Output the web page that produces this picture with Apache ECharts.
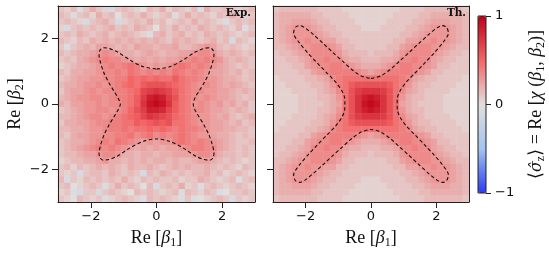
<!DOCTYPE html>
<html><head><meta charset="utf-8">
<script src="https://cdn.jsdelivr.net/npm/echarts@6/dist/echarts.min.js"></script>
<style>html,body{margin:0;padding:0;background:#fff}#c{width:549px;height:257px}</style>
</head><body><div id="c"></div>
<script>
// level code: a=-0.25, b=-0.20, ... f=0.00, ... z=1.00 (step 0.05)
const levelChars = 'abcdefghijklmnopqrstuvwxyz';

// Experimental panel, rows from top (Re[b2]=+3) to bottom (-3), columns left (-3) to right (+3)
const expRows = [
  "hgieh jhgdh ihgfi hjgih giejh hihgh i",
  "ihehi gjhif hihjh ghieh jhihg ihjhg h",
  "hihgd hijhd ghihj highi hjhih gehih i",
  "gdhih ihijh ihjih fihjh ihjih ihgie h",
  "hihji hijhi jihge ijhij hihji hihgh i",
  "ihgih jijij ijiji jihji jihij hidih g",
  "hehij ikkji jikjj ijjki ijklk ihihg h",
  "ihijj klmlk jjijk jijjk klmml jijih i",
  "hihjk lmnmm lkjkj kjkkl mnmnm ljiji h",
  "ghijj klmnm nonlk lklno nmnml kjihi h",
  "ihjjk klmmn monmn mnmon mnmlk kjijh i",
  "hijkk llmmn npopo pooqo nnmll kjjih i",
  "ijjkl lmlmn opoqr rrqpo nmlml kjkji h",
  "hjkkl mlmmn nopst utsqo nmmll kkjij i",
  "ijkll mmlmn noqtw xwtro nmlml kkjih i",
  "jikkl lmlmm noqux yxuqo nlmlk ljkij h",
  "hijkl lmmlm nprtw wvsqo nmmlk kjiji h",
  "iijkl mmlmn opqsu tsrpo nmllk jkihi j",
  "hjjkk lmmnn ooqpq rqroo nmllk kjijh i",
  "iijjk llmnn onoop opono nnmlk kjjii h",
  "ihjkk llmmn nomno mnmno nmllk jjihi h",
  "hijjk lmnmo nmlkl kllno nmnml kjihh i",
  "hijkl mnmnm lkjkj kjkkl mnnmm kjihi h",
  "hiijk klmml jjijj ijjkk klmml jiihi h",
  "ghiij jkljj ijiji jjiji ijkkj ihihg h",
  "higih ijiji hjiij ihiji jiiji hihgi h",
  "hghdh iihji hihdi hjihi hiijh ighih g",
  "idhgi hihih jhgih ihhig hhjih ghieh i",
  "hifgh ihehj hihfi dhihj ghehi hghih g",
  "ghedh hdhih gfihi hghie ihgih efhhi h",
  "hgfih ghegh ihgei hihge hefgh ihdhg h"
];

// Theory panel
const thRows = [
  "hiiiiiihhhhgggg g gggghhhhiiiiiih",
  "ijjjjjiihhhhggg g ggghhhhiijjjjji",
  "ijjkkkjiihhhhgg g gghhhhiijkkkjji",
  "ijklllkjiihhhhg g ghhhhiijklllkji",
  "ijkllllkjiihhhh h hhhhiijkllllkji",
  "ijkllmllkkiihhh h hhhiikkllmllkji",
  "iijkllmmmlkiihh h hhiiklmmmllkjii",
  "hiijklmmmmljiii h iiijlmmmmlkjiih",
  "hhiijkmmnmmkjji i ijjkmmnmmkjiihh",
  "hhhiiklmmnnmlkj j jklmnnmmlkiihhh",
  "hhhhiiklmnnnnml k lmnnnnmlkiihhhh",
  "ghhhhiijkmnoooo o oooonmkjiihhhhg",
  "gghhhhiijlnoqrr r rrqonljiihhhhgg",
  "ggghhhhijkmortu u utromkjihhhhggg",
  "gggghhhiijloruw x wuroljiihhhgggg",
  "gggghhhhijkorux y xurokjihhhhgggg",
  "gggghhhiijloruw x wuroljiihhhgggg",
  "ggghhhhijkmortu u utromkjihhhhggg",
  "gghhhhiijlnoqrr r rrqonljiihhhhgg",
  "ghhhhiijkmnoooo o oooonmkjiihhhhg",
  "hhhhiiklmnnnnml k lmnnnnmlkiihhhh",
  "hhhiiklmmnnmlkj j jklmnnmmlkiihhh",
  "hhiijkmmnmmkjji i ijjkmmnmmkjiihh",
  "hiijklmmmmljiii h iiijlmmmmlkjiih",
  "iijkllmmmlkiihh h hhiiklmmmllkjii",
  "ijkllmllkkiihhh h hhhiikkllmllkji",
  "ijkllllkjiihhhh h hhhhiijkllllkji",
  "ijklllkjiihhhhg g ghhhhiijklllkji",
  "ijjkkkjiihhhhgg g gghhhhiijkkkjji",
  "ijjjjjiihhhhggg g ggghhhhiijjjjji",
  "hiiiiiihhhhgggg g gggghhhhiiiiiih"
];

// dashed contour lines, [Re b1, Re b2]
const expContour = [
  [0,1.07],[0.4,1.14],[0.8,1.34],[1.2,1.6],[1.45,1.7],[1.62,1.72],[1.72,1.65],[1.75,1.5],[1.7,1.25],[1.6,0.95],[1.45,0.65],[1.3,0.4],[1.17,0.18],[1.12,0],
  [1.17,-0.18],[1.3,-0.4],[1.45,-0.65],[1.6,-0.95],[1.7,-1.25],[1.75,-1.5],[1.72,-1.65],[1.62,-1.72],[1.45,-1.7],[1.2,-1.6],[0.8,-1.34],[0.4,-1.14],[0,-1.07],
  [-0.4,-1.14],[-0.8,-1.34],[-1.2,-1.6],[-1.45,-1.7],[-1.62,-1.72],[-1.72,-1.65],[-1.75,-1.5],[-1.7,-1.25],[-1.6,-0.95],[-1.45,-0.65],[-1.3,-0.4],[-1.17,-0.18],[-1.1,0],
  [-1.17,0.18],[-1.3,0.4],[-1.45,0.65],[-1.6,0.95],[-1.7,1.25],[-1.75,1.5],[-1.72,1.65],[-1.62,1.72],[-1.45,1.7],[-1.2,1.6],[-0.8,1.34],[-0.4,1.14],[0,1.07]
];
const thContour = [
  [0,0.78],[0.3,0.86],[0.58,1.05],[0.87,1.31],[1.17,1.58],[1.47,1.86],[1.77,2.13],[2.02,2.33],[2.18,2.4],[2.31,2.35],[2.37,2.17],[2.2,1.88],[1.94,1.57],[1.64,1.25],[1.34,0.94],[1.08,0.67],[0.9,0.42],[0.81,0.2],[0.8,0],
  [0.81,-0.2],[0.9,-0.42],[1.08,-0.67],[1.34,-0.94],[1.64,-1.25],[1.94,-1.57],[2.2,-1.88],[2.37,-2.17],[2.31,-2.35],[2.18,-2.4],[2.02,-2.33],[1.77,-2.13],[1.47,-1.86],[1.17,-1.58],[0.87,-1.31],[0.58,-1.05],[0.3,-0.86],[0,-0.78],
  [-0.3,-0.86],[-0.58,-1.05],[-0.87,-1.31],[-1.17,-1.58],[-1.47,-1.86],[-1.77,-2.13],[-2.02,-2.33],[-2.18,-2.4],[-2.31,-2.35],[-2.37,-2.17],[-2.2,-1.88],[-1.94,-1.57],[-1.64,-1.25],[-1.34,-0.94],[-1.08,-0.67],[-0.9,-0.42],[-0.81,-0.2],[-0.8,0],
  [-0.81,0.2],[-0.9,0.42],[-1.08,0.67],[-1.34,0.94],[-1.64,1.25],[-1.94,1.57],[-2.2,1.88],[-2.37,2.17],[-2.31,2.35],[-2.18,2.4],[-2.02,2.33],[-1.77,2.13],[-1.47,1.86],[-1.17,1.58],[-0.87,1.31],[-0.58,1.05],[-0.3,0.86],[0,0.78]
];

const tickValues = [-2, 0, 2];
const cbarTicks = [-1, 0, 1];
const axisRange = [-3, 3];
const cmapColors = ['#2a3cf2', '#a4c4ef', '#e2dedd', '#f26666', '#bd0016'];

function decode(rows) {
  const out = [];
  const n = rows.length;
  rows.forEach((row, r) => {
    const s = row.replace(/ /g, '');
    for (let c = 0; c < s.length; c++) {
      out.push([c, n - 1 - r, (levelChars.indexOf(s[c]) - 5) / 20]);
    }
  });
  return out;
}
const cells = expRows.map((_, i) => String(i));

const minus = v => (v < 0 ? '\u2212' + Math.abs(v) : String(v));
const tickFont = { fontFamily: 'DejaVu Sans', fontSize: 13, color: '#111' };
const frameLine = { show: true, onZero: false, lineStyle: { color: '#222', width: 1 } };
const nameStyle = {
  fontFamily: 'Liberation Serif', fontSize: 18, color: '#111',
  rich: {
    it: { fontFamily: 'Liberation Serif', fontStyle: 'italic', fontSize: 18, color: '#111' },
    hat: { fontFamily: 'DejaVu Serif', fontStyle: 'italic', fontSize: 16, color: '#111' },
    sub: { fontFamily: 'Liberation Serif', fontSize: 12, color: '#111', padding: [9, 0, 0, 0] }
  }
};

const grids = [
  { left: 58, top: 6, width: 197, height: 196 },
  { left: 273, top: 6, width: 196, height: 196 },
  { left: 478, top: 16, width: 8, height: 177 }
];

function catX(g) {
  return { type: 'category', gridIndex: g, data: cells, position: 'top', boundaryGap: true,
    axisLine: frameLine, axisTick: { show: false }, axisLabel: { show: false }, splitLine: { show: false }, z: 5 };
}
function catY(g) {
  return { type: 'category', gridIndex: g, data: cells, position: 'right', boundaryGap: true,
    axisLine: frameLine, axisTick: { show: false }, axisLabel: { show: false }, splitLine: { show: false }, z: 5 };
}
function valX(g) {
  return { type: 'value', gridIndex: g, position: 'bottom', min: axisRange[0], max: axisRange[1],
    axisLine: { show: true, onZero: false, lineStyle: { color: '#222', width: 1 } },
    axisTick: { show: true, customValues: tickValues, length: 6, lineStyle: { color: '#222' } },
    axisLabel: { show: true, customValues: tickValues, formatter: minus, margin: 8, ...tickFont },
    splitLine: { show: false }, z: 5,
    name: 'Re [{it|β}{sub|1}]', nameLocation: 'middle', nameGap: 26, nameTextStyle: nameStyle };
}
function valY(g, labels) {
  const ax = { type: 'value', gridIndex: g, position: 'left', min: axisRange[0], max: axisRange[1],
    axisLine: { show: true, onZero: false, lineStyle: { color: '#222', width: 1 } },
    axisTick: { show: true, customValues: tickValues, length: 6, lineStyle: { color: '#222' } },
    axisLabel: { show: labels, customValues: tickValues, formatter: minus, margin: 9, ...tickFont },
    splitLine: { show: false }, z: 5 };
  if (labels) {
    ax.name = 'Re [{it|β}{sub|2}]';
    ax.nameLocation = 'middle';
    ax.nameGap = 23;
    ax.nameRotate = 90;
    ax.nameTextStyle = nameStyle;
  }
  return ax;
}

const contourStyle = { color: '#111', width: 1.1, type: [3.5, 2.5] };

const option = {
  animation: false,
  backgroundColor: '#fff',
  grid: grids,
  xAxis: [catX(0), valX(0), catX(1), valX(1),
    { type: 'value', gridIndex: 2, show: false, min: 0, max: 1 }],
  yAxis: [catY(0), valY(0, true), catY(1), valY(1, false),
    { type: 'value', gridIndex: 2, position: 'right', min: cbarTicks[0], max: cbarTicks[2], interval: 1,
      axisLine: { show: false, onZero: false }, splitLine: { show: false },
      axisTick: { show: true, length: 5, lineStyle: { color: '#222' } },
      axisLabel: { formatter: minus, margin: 9, ...tickFont },
      name: '⟨{hat|σ̂}{sub|z}⟩ = Re [{it|χ} ({it|β}{sub|1}, {it|β}{sub|2})]',
      nameLocation: 'middle', nameRotate: 90, nameGap: 40, nameTextStyle: nameStyle, z: 5 }],
  visualMap: {
    type: 'continuous', min: -1, max: 1, seriesIndex: [0, 1], orient: 'vertical',
    left: 478, top: 16, itemWidth: 8, itemHeight: 177, padding: 0, calculable: false,
    text: null, showLabel: false, inRange: { color: cmapColors }
  },
  series: [
    { type: 'heatmap', xAxisIndex: 0, yAxisIndex: 0, data: decode(expRows), progressive: 0, emphasis: { disabled: true } },
    { type: 'heatmap', xAxisIndex: 2, yAxisIndex: 2, data: decode(thRows), progressive: 0, emphasis: { disabled: true } },
    { type: 'line', xAxisIndex: 1, yAxisIndex: 1, data: expContour, showSymbol: false, smooth: 0.3, lineStyle: contourStyle, z: 4 },
    { type: 'line', xAxisIndex: 3, yAxisIndex: 3, data: thContour, showSymbol: false, smooth: 0.3, lineStyle: contourStyle, z: 4 }
  ],
  graphic: [
    { type: 'text', x: 251, y: 8, z: 100, style: { text: 'Exp.', font: 'bold 10.5px "DejaVu Serif"', textAlign: 'right', align: 'right', textVerticalAlign: 'top', verticalAlign: 'top', fill: '#111' } },
    { type: 'text', x: 466, y: 8, z: 100, style: { text: 'Th.', font: 'bold 10.5px "DejaVu Serif"', textAlign: 'right', align: 'right', textVerticalAlign: 'top', verticalAlign: 'top', fill: '#111' } },
    { type: 'rect', z: 100, shape: { x: 478, y: 16, width: 8, height: 177 }, style: { fill: 'none', stroke: '#222', lineWidth: 1 } }
  ]
};

const chart = echarts.init(document.getElementById('c'), null, { renderer: 'canvas' });
chart.setOption(option);

const bad = [];
expRows.forEach((r, i) => { if (r.replace(/ /g, '').length !== 31) bad.push('exp' + i); });
thRows.forEach((r, i) => { if (r.replace(/ /g, '').length !== 31) bad.push('th' + i); });
if (bad.length) throw new Error('bad rows: ' + bad.join(','));
</script>
</body></html>
